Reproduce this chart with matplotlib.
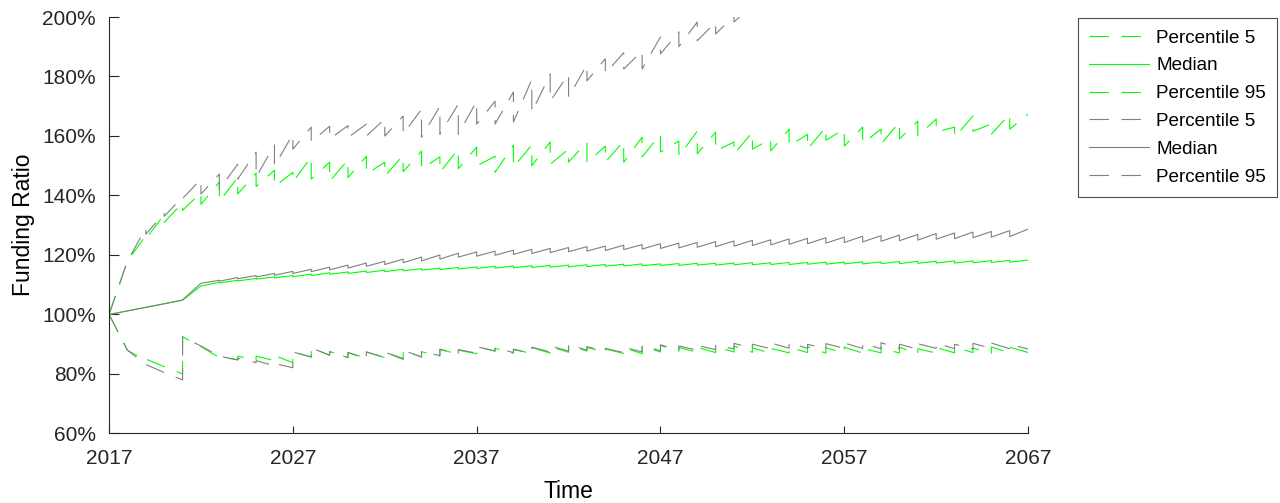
import numpy as np
import matplotlib
matplotlib.use("Agg")
import matplotlib.pyplot as plt
from matplotlib.lines import Line2D

plt.rcParams['font.family'] = ['Liberation Sans', 'DejaVu Sans']
plt.rcParams['lines.scale_dashes'] = False

# jaren: elk jaar een waarde aan het begin (na de sprong) en aan het eind (voor de sprong)
years = list(range(2017, 2067))

green_p5_start = [100, 88, 85, 82.5, 92.5, 89.2, 85.8, 86.0, 86.0, 86.2,
                  87.4, 88.8, 87.6, 87.2, 87.4, 87.4, 88.0, 87.5, 88.3, 88.0,
                  89.2, 88.6, 88.4, 88.9, 89.2, 89.6, 88.9, 88.4, 88.9, 89.3,
                  89.6, 88.9, 89.0, 89.2, 89.4, 88.8, 88.6, 89.0, 89.2, 88.8,
                  89.0, 88.6, 88.9, 89.0, 88.5, 88.9, 89.0, 88.7, 89.1, 89.0]
green_p5_end = [88, 84.5, 82.5, 80, 89.2, 85.5, 84.8, 84.7, 84.5, 83.8,
                85.7, 86.3, 85.5, 85.3, 85.5, 85.2, 85.7, 86.0, 86.6, 86.8,
                87.7, 87.0, 86.8, 87.0, 87.3, 87.7, 87.4, 86.9, 86.8, 87.4,
                87.7, 87.3, 87.2, 87.4, 87.3, 87.0, 87.1, 87.2, 87.0, 87.1,
                87.0, 87.1, 87.0, 86.9, 87.0, 87.1, 87.2, 87.0, 87.1, 87.2]

green_med_start = [100, 101.2, 102.4, 103.6, 104.8, 109.6, 110.6, 111.3, 111.9, 112.3,
                   112.7, 113.1, 113.5, 113.8, 114.1, 114.4, 114.7, 114.9, 115.1, 115.3,
                   115.5, 115.6, 115.7, 115.8, 115.9, 116.0, 116.1, 116.2, 116.3, 116.4,
                   116.5, 116.5, 116.6, 116.6, 116.7, 116.7, 116.8, 116.8, 116.9, 116.9,
                   117.0, 117.0, 117.1, 117.1, 117.2, 117.3, 117.3, 117.4, 117.5, 117.6]
green_med_end = [101.2, 102.4, 103.6, 104.8, 109.6, 110.8, 111.5, 112.1, 112.6, 113.1,
                 113.6, 114.0, 114.3, 114.6, 114.9, 115.2, 115.4, 115.6, 115.8, 116.0,
                 116.2, 116.3, 116.4, 116.5, 116.6, 116.7, 116.8, 116.9, 117.0, 117.0,
                 117.1, 117.2, 117.2, 117.3, 117.4, 117.4, 117.5, 117.5, 117.6, 117.6,
                 117.7, 117.7, 117.8, 117.9, 117.9, 118.0, 118.0, 118.1, 118.2, 118.3]

green_p95_start = [100, 118, 125.5, 131, 135, 137, 138, 140.5, 143, 143,
                   144.5, 145.5, 144.8, 146, 147.2, 146.5, 148, 148.9, 147.8, 149,
                   149.9, 147.8, 149.5, 150, 150.5, 151.2, 151, 151.2, 151.2, 153,
                   154.6, 153.2, 154, 154.9, 153.9, 155.6, 155, 156.6, 155.6, 158.6,
                   156.6, 157.5, 157.3, 159, 160, 161.3, 159.6, 161.6, 160.6, 162.3]
green_p95_end = [118, 126.5, 133.5, 137.5, 141, 144.5, 146, 147.5, 148.5, 147.8,
                 153, 151.2, 152, 153.2, 151.2, 153.5, 154.9, 153, 155.6, 156.3,
                 153.2, 156.9, 157, 158, 155.6, 158, 156.6, 158.3, 159.6, 160.6,
                 158.3, 161.6, 161.3, 158, 161.3, 159, 162.3, 160.6, 163, 162.3,
                 163, 162.3, 164.7, 165, 165.7, 163, 166.7, 164, 167.4, 167.4]

grey_p5_start = [100, 88, 83.2, 80.5, 92.5, 89.4, 86.0, 85.3, 84.5, 83.5,
                 87.4, 88.8, 87.4, 87.2, 87.4, 87.4, 88.0, 87.6, 88.3, 88.2,
                 89.2, 88.8, 88.2, 89.0, 89.4, 90.0, 89.2, 88.6, 89.0, 89.6,
                 89.8, 89.4, 89.6, 89.8, 90.3, 90.0, 90.4, 90.6, 90.0, 90.2,
                 90.4, 90.3, 90.5, 90.0, 90.2, 90.4, 90.0, 90.3, 90.4, 90.0]
grey_p5_end = [88, 83.2, 80.5, 78, 89.4, 86.0, 84.7, 83.8, 82.7, 82.1,
               85.7, 86.3, 85.5, 85.1, 85.5, 84.9, 85.7, 86.2, 86.8, 87.0,
               87.7, 87.2, 87.0, 87.4, 87.7, 88.0, 87.6, 87.2, 87.4, 87.8,
               88.0, 88.0, 88.2, 88.4, 88.6, 88.5, 88.7, 88.6, 88.4, 88.6,
               88.6, 88.5, 88.6, 88.3, 88.6, 88.5, 88.4, 88.6, 88.5, 88.4]

grey_med_start = [100, 101.2, 102.4, 103.6, 104.9, 110.5, 111.2, 112.0, 112.6, 113.2,
                  113.8, 114.4, 115.0, 115.6, 116.2, 116.8, 117.4, 118.0, 118.6, 119.3,
                  119.6, 119.9, 120.2, 120.5, 120.8, 121.1, 121.3, 121.5, 121.8, 122.0,
                  122.2, 122.4, 122.6, 122.8, 123.0, 123.2, 123.4, 123.6, 123.8, 124.0,
                  124.2, 124.4, 124.6, 124.8, 125.0, 125.3, 125.5, 125.8, 126.0, 126.2]
grey_med_end = [101.2, 102.4, 103.6, 104.9, 110.5, 111.5, 112.4, 113.1, 113.8, 114.5,
                115.2, 115.9, 116.6, 117.3, 117.9, 118.6, 119.3, 120.0, 120.6, 121.0,
                121.3, 121.6, 121.9, 122.2, 122.5, 122.8, 123.0, 123.3, 123.5, 123.8,
                124.0, 124.2, 124.5, 124.7, 124.9, 125.1, 125.4, 125.6, 125.8, 126.0,
                126.3, 126.5, 126.7, 126.9, 127.2, 127.4, 127.7, 127.9, 128.2, 128.7]

# grijze P95 loopt na 2051 boven de 200% uit beeld
grey_p95_start = [100, 118, 127, 133, 139, 140.5, 142.1, 145.5, 146.2, 149.9,
                  155.6, 158, 159, 159.5, 160, 160, 160.6, 159.6, 160.6, 160.6,
                  164, 164, 164.7, 168, 171.7, 173, 178.5, 181, 182.5, 182.5,
                  187.6, 190, 192, 194.3, 198.3]
grey_p95_end = [118, 129, 134, 139.5, 145.5, 147.2, 150.5, 154.6, 157, 160.6,
                163, 163.3, 163.5, 164, 165.7, 166.7, 169, 170, 170.7, 171.7,
                171.7, 174.8, 179, 180.8, 180.8, 184, 186, 188, 188.6, 193.3,
                195, 198.3, 198.3, 200.3, 204]

labels = ['Percentile 5', 'Median', 'Percentile 95',
          'Percentile 5', 'Median', 'Percentile 95']
yticks = [60, 80, 100, 120, 140, 160, 180, 200]
xticks = [2017, 2027, 2037, 2047, 2057, 2067]


def sawtooth(start, end):
    # per jaar: begin op (jaar, start) en eind op (jaar+1, eind) -> sprong is verticaal
    n = len(start)
    yrs = np.array(years[:n], dtype=float)
    x = np.column_stack([yrs, yrs + 1]).ravel()
    y = np.column_stack([start, end]).ravel()
    return x, y


def main():
    fig = plt.figure(figsize=(12.8, 5.03), dpi=100)
    ax = fig.add_axes([0.0852, 0.1382, 0.7180, 0.8280])

    green = '#00ff00'
    grey = '#808080'
    dash = (0, (14, 9))
    lw = 0.8

    series = [
        (green_p5_start, green_p5_end, green, dash),
        (green_med_start, green_med_end, green, '-'),
        (green_p95_start, green_p95_end, green, dash),
        (grey_p5_start, grey_p5_end, grey, dash),
        (grey_med_start, grey_med_end, grey, '-'),
        (grey_p95_start, grey_p95_end, grey, dash),
    ]
    handles = []
    for (s, e, c, ls), lab in zip(series, labels):
        x, y = sawtooth(s, e)
        ax.plot(x, y, color=c, linestyle=ls, linewidth=lw)
        handles.append(Line2D([], [], color=c, linestyle=ls, linewidth=lw, label=lab))

    ax.set_xlim(2017, 2067)
    ax.set_ylim(60, 200)
    ax.set_xticks(xticks)
    ax.set_yticks(yticks)
    ax.set_yticklabels([f'{v}%' for v in yticks])
    for s in ['top', 'right']:
        ax.spines[s].set_visible(False)
    for s in ['left', 'bottom']:
        ax.spines[s].set_color('#262626')
        ax.spines[s].set_linewidth(0.8)
    ax.tick_params(axis='both', direction='in', colors='#262626', labelsize=15,
                   width=0.8)
    ax.tick_params(axis='y', length=7.5, pad=9.5)
    ax.tick_params(axis='x', length=5, pad=11)
    for lbl in ax.get_xticklabels() + ax.get_yticklabels():
        lbl.set_color('#262626')

    ax.set_xlabel('Time', fontsize=16.5, labelpad=8.5)
    ax.set_ylabel('Funding Ratio', fontsize=16.5, labelpad=5)

    leg = fig.legend(handles=handles, loc='upper left', bbox_to_anchor=(0.8422, 0.9642),
                     borderaxespad=0, fontsize=13.6, handlelength=3.17,
                     labelspacing=0.56, frameon=True, fancybox=False,
                     borderpad=0.6, handletextpad=0.37)
    leg.get_frame().set_edgecolor('#262626')
    leg.get_frame().set_linewidth(0.8)

    fig.savefig('out.png', dpi=100)


if __name__ == "__main__":
    main()
